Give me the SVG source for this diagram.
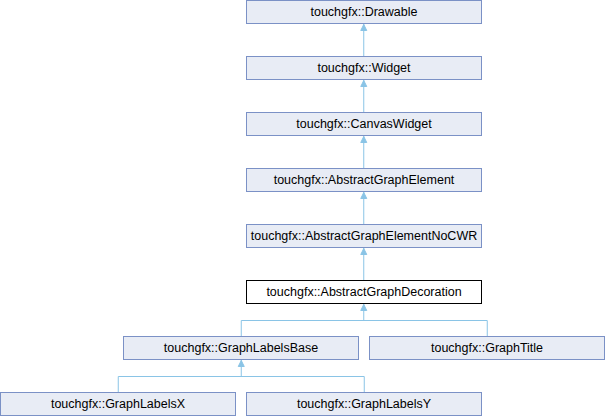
<svg xmlns="http://www.w3.org/2000/svg" width="605" height="416" viewBox="0 0 605 416">
<defs>
<style>
.box{fill:#e8ecf5;stroke:#7b91c6;stroke-width:1}
.cur{fill:#ffffff;stroke:#000000;stroke-width:1}
.lbl{font-family:"Liberation Sans",Arial,sans-serif;font-size:12.5px;fill:#000000;text-anchor:middle}
.edge{fill:none;stroke:#8ac4e6;stroke-width:1}
.ah{fill:#8ac4e6;stroke:#8ac4e6;stroke-width:1}
</style>
</defs>
<rect x="0" y="0" width="605" height="416" fill="#ffffff"/>
<g id="connectors">
<path class="edge" d="M363.75,56.5V24"/>
<path class="ah" d="M363.75,24.5L360.75,30.5L366.75,30.5Z"/>
<path class="edge" d="M363.75,112.5V80"/>
<path class="ah" d="M363.75,80.5L360.75,86.5L366.75,86.5Z"/>
<path class="edge" d="M363.75,168.5V136"/>
<path class="ah" d="M363.75,136.5L360.75,142.5L366.75,142.5Z"/>
<path class="edge" d="M363.75,224.5V192"/>
<path class="ah" d="M363.75,192.5L360.75,198.5L366.75,198.5Z"/>
<path class="edge" d="M363.75,280.5V248"/>
<path class="ah" d="M363.75,248.5L360.75,254.5L366.75,254.5Z"/>
<path class="edge" d="M363.75,304V320.5M241.25,336.5V320.5H487.25V336.5"/>
<path class="ah" d="M363.75,304.5L360.75,310.5L366.75,310.5Z"/>
<path class="edge" d="M241.25,360V376.5M118.25,392.5V376.5H364.25V392.5"/>
<path class="ah" d="M241.25,360.5L238.25,366.5L244.25,366.5Z"/>
</g>
<g id="drawable"><rect class="box" x="246.5" y="0.5" width="235" height="23"/><text class="lbl" x="364" y="16">touchgfx::Drawable</text></g>
<g id="widget"><rect class="box" x="246.5" y="56.5" width="235" height="23"/><text class="lbl" x="364" y="72">touchgfx::Widget</text></g>
<g id="canvaswidget"><rect class="box" x="246.5" y="112.5" width="235" height="23"/><text class="lbl" x="364" y="128">touchgfx::CanvasWidget</text></g>
<g id="abstractgraphelement"><rect class="box" x="246.5" y="168.5" width="235" height="23"/><text class="lbl" x="364" y="184">touchgfx::AbstractGraphElement</text></g>
<g id="abstractgraphelementnocwr"><rect class="box" x="246.5" y="224.5" width="235" height="23"/><text class="lbl" x="364" y="240">touchgfx::AbstractGraphElementNoCWR</text></g>
<g id="abstractgraphdecoration"><rect class="cur" x="246.5" y="280.5" width="235" height="23"/><text class="lbl" x="364" y="296">touchgfx::AbstractGraphDecoration</text></g>
<g id="graphlabelsbase"><rect class="box" x="123.5" y="336.5" width="235" height="23"/><text class="lbl" x="241" y="352">touchgfx::GraphLabelsBase</text></g>
<g id="graphtitle"><rect class="box" x="369.5" y="336.5" width="235" height="23"/><text class="lbl" x="487" y="352">touchgfx::GraphTitle</text></g>
<g id="graphlabelsx"><rect class="box" x="0.5" y="392.5" width="235" height="23"/><text class="lbl" x="118" y="408">touchgfx::GraphLabelsX</text></g>
<g id="graphlabelsy"><rect class="box" x="246.5" y="392.5" width="235" height="23"/><text class="lbl" x="364" y="408">touchgfx::GraphLabelsY</text></g>
</svg>
